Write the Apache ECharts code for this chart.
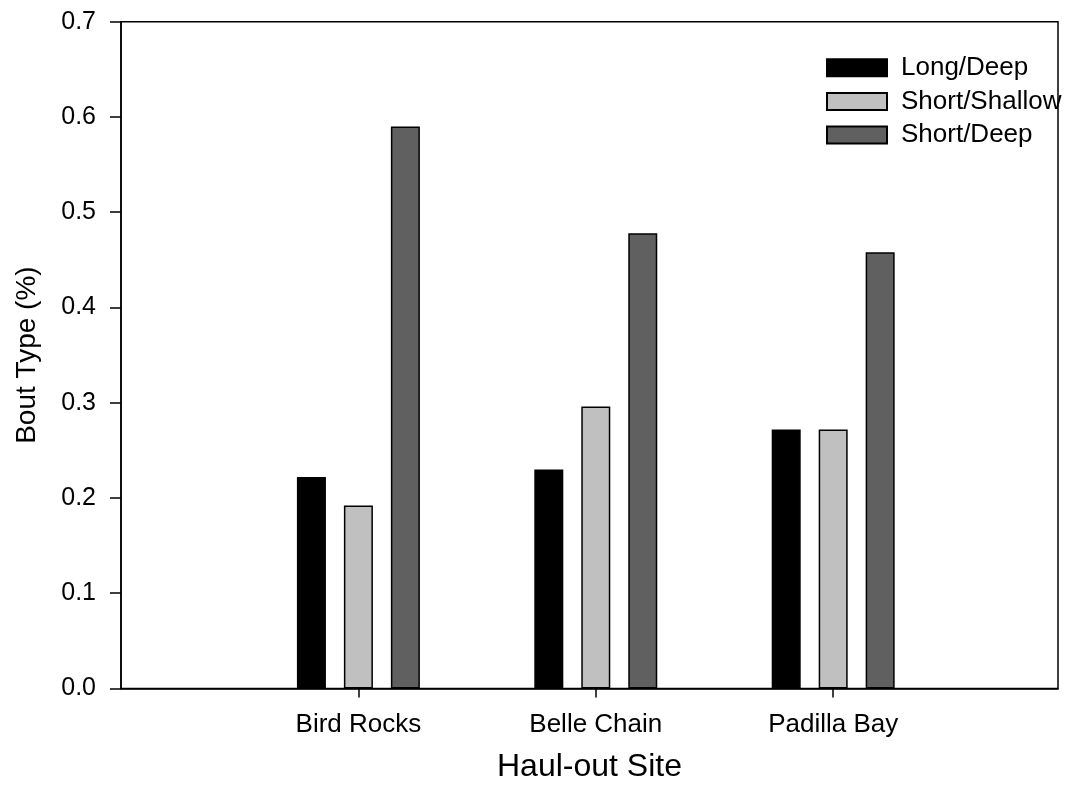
<!DOCTYPE html>
<html>
<head>
<meta charset="utf-8">
<script src="https://cdn.jsdelivr.net/npm/echarts@6/dist/echarts.min.js"></script>
<style>
  html, body { margin: 0; padding: 0; background: #fff; }
  #chart { width: 1073px; height: 798px; }
</style>
</head>
<body>
<div id="chart"></div>
<script>
// sites sit at x = 1, 2, 3 on the value axis
const sites = ['Bird Rocks', 'Belle Chain', 'Padilla Bay'];
const sitePos = [1, 2, 3];
const longDeep = [0.222, 0.230, 0.272];
const shortShallow = [0.192, 0.296, 0.272];
const shortDeep = [0.590, 0.478, 0.458];
const yTicks = [0, 0.1, 0.2, 0.3, 0.4, 0.5, 0.6, 0.7];

const font = 'Liberation Sans, Arial, sans-serif';

const seriesDefs = [
  { name: 'Long/Deep', data: longDeep, color: '#000000' },
  { name: 'Short/Shallow', data: shortShallow, color: '#c0c0c0' },
  { name: 'Short/Deep', data: shortDeep, color: '#606060' },
];

const chart = echarts.init(document.getElementById('chart'));

chart.setOption({
  animation: false,
  backgroundColor: '#fff',
  grid: {
    left: 121,
    right: 15,
    top: 21.7,
    bottom: 109.5,
    show: true,
    borderColor: '#000',
    borderWidth: 1.5,
    backgroundColor: 'transparent',
  },
  legend: {
    orient: 'vertical',
    left: 826,
    top: 54.7,
    padding: 0,
    itemWidth: 60,
    itemHeight: 17,
    itemGap: 7.7,
    icon: 'rect',
    selectedMode: false,
    textStyle: { fontFamily: font, fontSize: 26, color: '#000', padding: [0, 0, 0, 9] },
    data: seriesDefs.map(s => s.name),
  },
  xAxis: {
    type: 'value',
    min: 0,
    max: 3.947,
    interval: 1,
    splitLine: { show: false },
    axisLine: { onZero: false, lineStyle: { color: '#000', width: 1.5 } },
    axisTick: { show: true, customValues: sitePos, length: 9, lineStyle: { color: '#000', width: 1.5 } },
    axisLabel: {
      customValues: sitePos,
      formatter: v => sites[sitePos.indexOf(Math.round(v))] || '',
      margin: 23,
      fontFamily: font,
      fontSize: 26,
      color: '#000',
    },
    name: 'Haul-out Site',
    nameLocation: 'middle',
    nameGap: 63,
    nameTextStyle: { fontFamily: font, fontSize: 32, color: '#000' },
  },
  yAxis: {
    type: 'value',
    min: 0,
    max: 0.7,
    interval: 0.1,
    splitLine: { show: false },
    axisLine: { show: true, lineStyle: { color: '#000', width: 1.5 } },
    axisTick: { show: true, length: 11, lineStyle: { color: '#000', width: 1.5 } },
    axisLabel: {
      formatter: v => v.toFixed(1),
      margin: 25,
      fontFamily: font,
      fontSize: 25,
      color: '#000',
    },
    name: 'Bout Type (%)',
    nameLocation: 'middle',
    nameGap: 80,
    nameTextStyle: { fontFamily: font, fontSize: 28, color: '#000' },
  },
  series: seriesDefs.map(s => ({
    name: s.name,
    type: 'bar',
    barWidth: 29,
    barGap: '62%',
    data: s.data.map((v, i) => [sitePos[i], v]),
    itemStyle: { color: s.color, borderColor: '#000', borderWidth: 1.5 },
  })),
});
</script>
</body>
</html>
